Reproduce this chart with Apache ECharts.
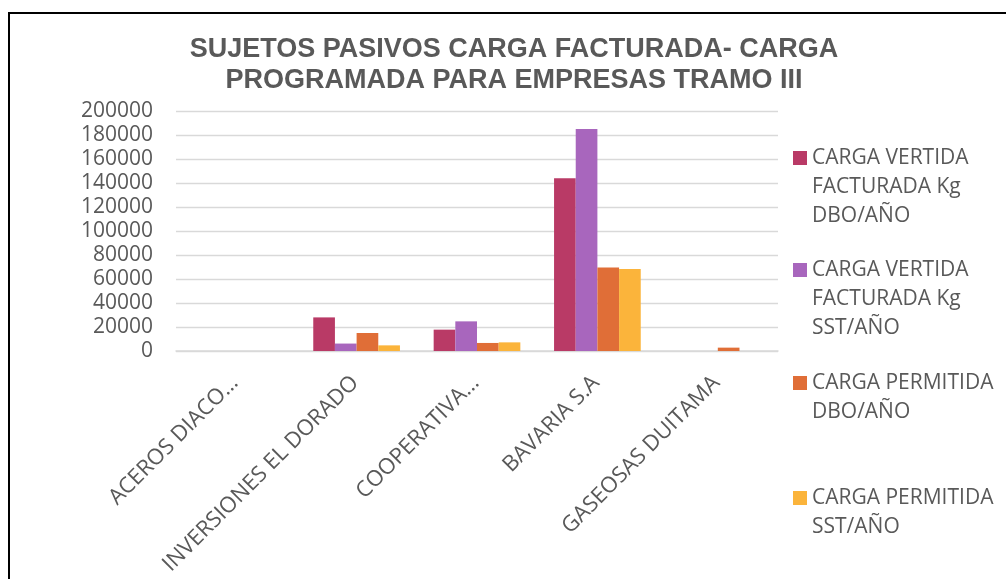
<!DOCTYPE html>
<html>
<head>
<meta charset="utf-8">
<script src="https://cdn.jsdelivr.net/npm/echarts@6/dist/echarts.min.js"></script>
<style>
html,body{margin:0;padding:0;background:#fff;overflow:hidden;}
#chart{width:1006px;height:579px;}
</style>
</head>
<body>
<div id="chart"></div>
<script>
const categories = ['ACEROS DIACO…', 'INVERSIONES EL DORADO', 'COOPERATIVA…', 'BAVARIA S.A', 'GASEOSAS DUITAMA'];
const seriesNames = [
  'CARGA VERTIDA\nFACTURADA Kg\nDBO/AÑO',
  'CARGA VERTIDA\nFACTURADA Kg\nSST/AÑO',
  'CARGA PERMITIDA\nDBO/AÑO',
  'CARGA PERMITIDA\nSST/AÑO'
];
const facturadaDBO = [0, 28000, 17800, 144000, 0];
const facturadaSST = [0, 6200, 24700, 185000, 0];
const permitidaDBO = [0, 15000, 6700, 69500, 2800];
const permitidaSST = [0, 4700, 7200, 68300, 0];
const yTicks = {min: 0, max: 200000, interval: 20000};

const colors = ['#B93A66', '#A866BD', '#E06E37', '#FBB43B'];
const values = [facturadaDBO, facturadaSST, permitidaDBO, permitidaSST];
const FONT = 'Open Sans';
const LH = 29;

const legendCenters = [158, 270, 383, 498];
const legends = seriesNames.map((name, i) => {
  const lines = name.split('\n').length;
  const pad = new Array(lines - 1).fill('\u00a0').join('\n');
  return {
    data: [name],
    orient: 'vertical',
    left: 793,
    top: legendCenters[i] - (2 * lines - 1) * LH / 2,
    padding: 0,
    itemWidth: 14,
    itemHeight: 14,
    icon: 'rect',
    selectedMode: false,
    formatter: (n) => pad + '\n' + n,
    textStyle: {
      fontFamily: FONT,
      fontSize: 21,
      color: '#595959',
      lineHeight: LH
    }
  };
});

const chart = echarts.init(document.getElementById('chart'), null, {renderer: 'canvas'});
chart.setOption({
  animation: false,
  backgroundColor: '#fff',
  color: colors,
  graphic: [{
    type: 'rect',
    shape: {x: 9, y: 13, width: 1200, height: 1000},
    style: {fill: 'none', stroke: '#000', lineWidth: 2},
    silent: true
  }],
  title: {
    text: 'SUJETOS PASIVOS CARGA FACTURADA- CARGA\nPROGRAMADA PARA EMPRESAS TRAMO III',
    left: 514,
    top: 34,
    padding: 0,
    textAlign: 'center',
    textStyle: {
      fontFamily: 'Liberation Sans',
      fontSize: 27,
      fontWeight: 'bold',
      color: '#595959',
      lineHeight: 31
    }
  },
  legend: legends,
  grid: {left: 176, right: 228, top: 111, bottom: 228, containLabel: false},
  xAxis: {
    type: 'category',
    data: categories,
    axisTick: {show: false},
    axisLine: {show: true, lineStyle: {color: '#D9D9D9', width: 1.5}},
    axisLabel: {
      interval: 0,
      rotate: 45,
      margin: 27,
      padding: [0, 2, 0, 0],
      fontFamily: FONT,
      fontSize: 22,
      color: '#595959'
    }
  },
  yAxis: {
    type: 'value',
    min: yTicks.min,
    max: yTicks.max,
    interval: yTicks.interval,
    axisLine: {show: false},
    axisTick: {show: false},
    splitLine: {lineStyle: {color: '#D9D9D9', width: 1.3}},
    axisLabel: {
      margin: 23,
      formatter: (v) => String(v),
      fontFamily: FONT,
      fontSize: 21,
      color: '#595959'
    }
  },
  series: seriesNames.map((name, i) => ({
    name: name,
    type: 'bar',
    data: values[i],
    barGap: '0%',
    barCategoryGap: '28%',
    itemStyle: {color: colors[i]}
  }))
});
</script>
</body>
</html>
